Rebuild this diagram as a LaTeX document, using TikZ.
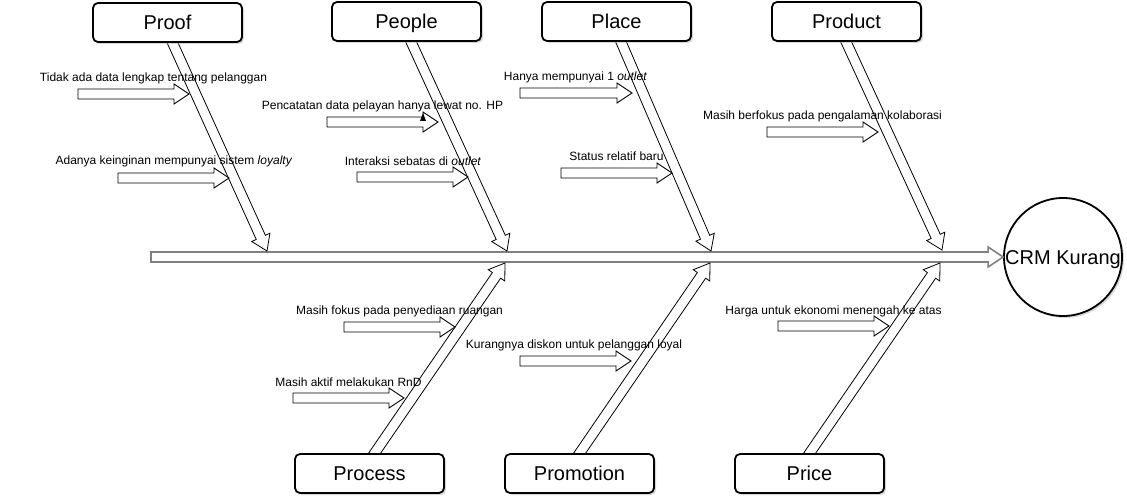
\documentclass[tikz,border=0pt]{standalone}
\usepackage{fontspec}
\setmainfont{Liberation Sans}
\usetikzlibrary{calc,shadows}

\definecolor{spinegray}{RGB}{128,128,128}

% Outlined "flex" arrow from #2 to #3: body 10 wide, head 20 wide, 15 long
\newcommand{\fatarrow}[3][]{%
  \path ($(#3)!15pt!(#2)$) coordinate (fah);
  \draw[#1]
    ($(#2)!5pt!90:(#3)$) -- ($(fah)!5pt!90:(#3)$) -- ($(fah)!10pt!90:(#3)$)
    -- (#3)
    -- ($(fah)!10pt!-90:(#3)$) -- ($(fah)!5pt!-90:(#3)$) -- ($(#2)!5pt!-90:(#3)$)
    -- cycle;
}

\tikzset{
  catbox/.style={draw=black, line width=1.8pt, rounded corners=5pt, fill=white,
    minimum width=149pt, minimum height=39pt, inner sep=0pt,
    text height=14pt, text depth=0pt,
    font=\fontsize{20}{24}\selectfont,
    drop shadow={shadow xshift=2pt, shadow yshift=-2pt, fill=black!30}},
  effect/.style={draw=black, line width=1.8pt, circle, fill=white, minimum size=118pt,
    inner sep=0pt, text height=14pt, text depth=0pt,
    font=\fontsize{20}{24}\selectfont,
    drop shadow={shadow xshift=2pt, shadow yshift=-2pt, fill=black!30}},
  cause/.style={inner sep=0pt, font=\fontsize{12}{14}\selectfont},
  bone/.style={draw=black, line width=0.8pt, fill=white, line join=miter},
  spine/.style={draw=spinegray, line width=1.6pt, fill=white},
  twig/.style={draw=black, line width=0.9pt, fill=white},
}

\begin{document}
\begin{tikzpicture}[x=1pt, y=-1pt]
\useasboundingbox (0,0) rectangle (1127,497);

% effect and main spine
\node[effect] (crm) at (1063,257) {CRM Kurang};
\coordinate (tail) at (151,257);
\fatarrow[spine]{tail}{crm.west}

% category box positions (the boxes are drawn after the bones)
\coordinate (proof)     at (167.5,22.5);
\coordinate (people)    at (406.5,21.5);
\coordinate (place)     at (616.5,21.5);
\coordinate (product)   at (846.5,21.5);
\coordinate (process)   at (369.5,473.5);
\coordinate (promotion) at (579.5,473.5);
\coordinate (price)     at (809.5,473.5);

% bone roots, just inside each box
\coordinate (r1) at ($(proof)+(4,18)$);
\coordinate (r2) at ($(people)+(3.5,18)$);
\coordinate (r3) at ($(place)+(3.5,18)$);
\coordinate (r4) at ($(product)+(-1.5,18)$);
\coordinate (r5) at ($(process)+(3.5,-18)$);
\coordinate (r6) at ($(promotion)+(-1.5,-18)$);
\coordinate (r7) at ($(price)+(-1.5,-18)$);

% points where the bones meet the spine
\coordinate (j1) at (267,251);
\coordinate (j2) at (507,251);
\coordinate (j3) at (711,251);
\coordinate (j4) at (942,250);
\coordinate (j5) at (505,263);
\coordinate (j6) at (710,263);
\coordinate (j7) at (940,263);

% bones
\foreach \i in {1,...,7}{\fatarrow[bone]{r\i}{j\i}}

% category boxes over the bone roots
\node[catbox] (proofbox)     at (proof)     {Proof};
\node[catbox] (peoplebox)    at (people)    {People};
\node[catbox] (placebox)     at (place)     {Place};
\node[catbox] (productbox)   at (product)   {Product};
\node[catbox] (processbox)   at (process)   {Process};
\node[catbox] (promotionbox) at (promotion) {Promotion};
\node[catbox] (pricebox)     at (price)     {Price};

% cause labels
\node[cause] (c1)  at (153.5,78)  {Tidak ada data lengkap tentang pelanggan};
\node[cause] (c2)  at (174,161)   {Adanya keinginan mempunyai sistem \textit{loyalty}};
\node[cause] (c3)  at (382.5,106) {Pencatatan data pelayan hanya lewat no. HP};
\node[cause] (c4)  at (413,161)   {Interaksi sebatas di \textit{outlet}};
\node[cause] (c5)  at (575.5,77)  {Hanya mempunyai 1 \textit{outlet}};
\node[cause] (c6)  at (616.5,156) {Status relatif baru};
\node[cause] (c7)  at (822.5,116) {Masih berfokus pada pengalaman kolaborasi};
\node[cause] (c8)  at (399.5,311) {Masih fokus pada penyediaan ruangan};
\node[cause] (c9)  at (574,345)   {Kurangnya diskon untuk pelanggan loyal};
\node[cause] (c10) at (348.5,382) {Masih aktif melakukan RnD};
\node[cause] (c11) at (833.5,311) {Harga untuk ekonomi menengah ke atas};

% cause arrows
\coordinate (a1s) at (78,94);   \coordinate (a1e) at (189,94);
\coordinate (a2s) at (118,178); \coordinate (a2e) at (229,178);
\coordinate (a3s) at (327,122); \coordinate (a3e) at (438,122);
\coordinate (a4s) at (357,177); \coordinate (a4e) at (468,177);
\coordinate (a5s) at (520,93);  \coordinate (a5e) at (632,93);
\coordinate (a6s) at (561,173); \coordinate (a6e) at (672,173);
\coordinate (a7s) at (767,132); \coordinate (a7e) at (878,132);
\coordinate (a8s) at (344,327); \coordinate (a8e) at (455,327);
\coordinate (a9s) at (520,361); \coordinate (a9e) at (631,361);
\coordinate (a10s) at (293,398); \coordinate (a10e) at (404,398);
\coordinate (a11s) at (778,326); \coordinate (a11e) at (889,326);
\foreach \i in {1,...,11}{\fatarrow[twig]{a\i s}{a\i e}}

% small stray arrowhead
\fill (420,121) -- (423,113) -- (426,121) -- cycle;
\end{tikzpicture}
\end{document}
